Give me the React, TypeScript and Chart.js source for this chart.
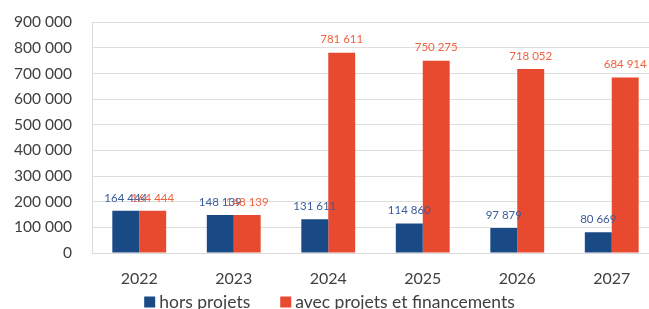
import React, { useEffect, useRef } from "react";
import { Chart, registerables } from "chart.js";

Chart.register(...registerables);

const categories = ["2022", "2023", "2024", "2025", "2026", "2027"];
const horsProjets = [164444, 148139, 131611, 114860, 97879, 80669];
const avecProjets = [164444, 148139, 781611, 750275, 718052, 684914];
const seriesNames = ["hors projets", "avec projets et financements"];
const seriesColors = ["#1a4a85", "#e84a30"];
const labelColors = ["#3b5b9a", "#f0623f"];

const fmt = (v: number) => String(Math.round(v)).replace(/\B(?=(\d{3})+(?!\d))/g, " ");

const valueLabels = {
  id: "valueLabels",
  afterDatasetsDraw(chart: any) {
    const ctx = chart.ctx;
    ctx.save();
    ctx.font = "11.5px Lato";
    ctx.textAlign = "center";
    ctx.textBaseline = "middle";
    chart.data.datasets.forEach((ds: any, i: number) => {
      const meta = chart.getDatasetMeta(i);
      ctx.fillStyle = labelColors[i];
      meta.data.forEach((bar: any, j: number) => {
        ctx.fillText(fmt(ds.data[j]), bar.x, bar.y - 13);
      });
    });
    ctx.restore();
  },
};

const bottomLegend = {
  id: "bottomLegend",
  afterDraw(chart: any) {
    const ctx = chart.ctx;
    ctx.save();
    ctx.font = "17.5px Lato";
    ctx.textBaseline = "middle";
    const box = 11, gap = 4, itemGap = 30;
    const items = chart.data.datasets.map((ds: any) => ({ text: ds.label, color: ds.backgroundColor, w: ctx.measureText(ds.label).width }));
    const total = items.reduce((s: number, it: any) => s + box + gap + it.w, 0) + itemGap * (items.length - 1);
    let x = chart.width / 2 - total / 2;
    const y = chart.chartArea.bottom + 49;
    items.forEach((it: any) => {
      ctx.fillStyle = it.color;
      ctx.fillRect(x, y - box / 2, box, box);
      x += box + gap;
      ctx.fillStyle = "#404040";
      ctx.fillText(it.text, x, y);
      x += it.w + itemGap;
    });
    ctx.restore();
  },
};

export default function App() {
  const ref = useRef<HTMLCanvasElement>(null);
  useEffect(() => {
    document.body.style.margin = "0";
    document.body.style.overflow = "hidden";
    const chart = new Chart(ref.current!, {
      type: "bar",
      data: {
        labels: categories,
        datasets: [
          { label: seriesNames[0], data: horsProjets, backgroundColor: seriesColors[0], barPercentage: 1, categoryPercentage: 0.57 },
          { label: seriesNames[1], data: avecProjets, backgroundColor: seriesColors[1], barPercentage: 1, categoryPercentage: 0.57 },
        ],
      },
      options: {
        animation: false,
        responsive: false,
        layout: { padding: { left: 0, top: 2, right: 0, bottom: 28 } },
        plugins: {
          tooltip: { enabled: false },
          legend: { display: false },
        },
        scales: {
          x: {
            grid: { display: false, drawTicks: false },
            border: { color: "#d9d9d9" },
            ticks: { color: "#404040", font: { family: "Lato", size: 16 }, padding: 16 },
            afterFit: (s: any) => { s.height = 35; },
          },
          y: {
            min: 0,
            max: 900000,
            ticks: {
              stepSize: 100000,
              color: "#404040",
              font: { family: "Lato", size: 15.5 },
              padding: 20,
              callback: (v: any) => fmt(Number(v)),
            },
            grid: { color: "#dedede", drawTicks: false },
            border: { color: "#d9d9d9" },
            afterFit: (s: any) => { s.width = 92; },
          },
        },
      },
      plugins: [valueLabels, bottomLegend],
    });
    return () => chart.destroy();
  }, []);
  return (
    <div style={{ position: "absolute", left: 0, top: 0, width: 649, height: 309, overflow: "hidden" }}>
      <canvas ref={ref} width={659} height={323} style={{ display: "block", position: "absolute", left: 0, top: -7 }} />
    </div>
  );
}
